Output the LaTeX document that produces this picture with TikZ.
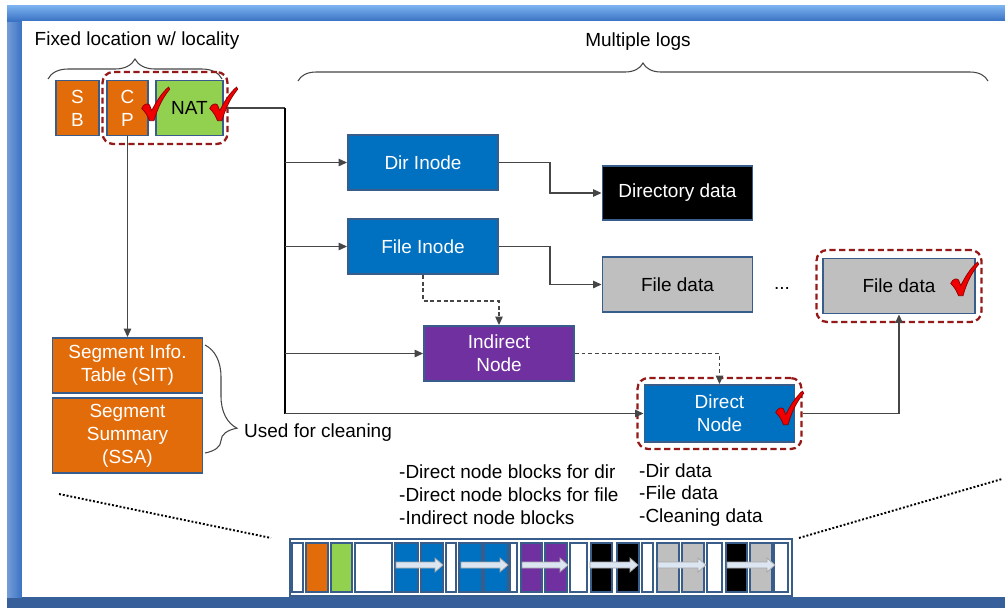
\documentclass[tikz,border=0pt]{standalone}
\usepackage{fontspec}
\setmainfont{Liberation Sans}
\usepackage{xcolor}
\usetikzlibrary{arrows.meta, positioning, fit, calc, decorations.pathreplacing}

\definecolor{frameblue}{RGB}{58,114,196}
\definecolor{framelight}{RGB}{125,180,240}
\definecolor{framedark}{RGB}{55,96,155}
\definecolor{bordblue}{RGB}{56,93,138}
\definecolor{orng}{RGB}{227,108,10}
\definecolor{grn}{RGB}{146,208,80}
\definecolor{blu}{RGB}{0,112,192}
\definecolor{purp}{RGB}{112,48,160}
\definecolor{gry}{RGB}{191,191,191}
\definecolor{rimred}{RGB}{150,25,25}
\definecolor{tickred}{RGB}{240,0,0}
\definecolor{tickdark}{RGB}{140,0,0}
\definecolor{linegray}{RGB}{70,70,70}
\definecolor{arrowfill}{RGB}{220,230,242}

\begin{document}
\begin{tikzpicture}[
    x=0.02cm, y=-0.02cm,
    every node/.style={font=\fontsize{10.8}{13}\selectfont},
    box/.style={rectangle, draw=bordblue, line width=1.1pt, minimum width=3cm, minimum height=1.1cm, inner sep=1pt, align=center},
    inode/.style={box, fill=blu, text=white},
    seg/.style={box, fill=orng, text=white},
    rim/.style={draw=rimred, line width=1.3pt, dash pattern=on 3.5pt off 2pt, rounded corners=6pt, inner xsep=0.1cm, inner ysep=0.14cm},
    conn/.style={draw=linegray, line width=0.7pt},
    arr/.style={conn, -{Triangle[length=1.7mm, width=1.5mm]}},
    fine dash/.style={dash pattern=on 2.2pt off 1.6pt},
    brc/.style={draw=linegray, line width=0.6pt, decorate, decoration={brace, amplitude=#1}},
    zoomline/.style={line width=1.1pt, dash pattern=on 1.1pt off 1.1pt},
    tick/.pic={
      \filldraw[fill=tickred, draw=tickdark, line width=0.4pt, scale=1.12]
        (-11,3) .. controls (-9,-1) and (-6,-2) .. (-4,0) -- (-2,5)
        .. controls (2,-3) and (7,-11) .. (13,-16) -- (14,-14)
        .. controls (8,-7) and (3,3) .. (0,14) -- (-4,14)
        .. controls (-6,9) and (-8,6) .. (-11,3) -- cycle;
    }
]
\useasboundingbox (0,0) rectangle (1005,610);

% frame
\fill[framedark] (7,5) rectangle (1010,608);
\shade[left color=frameblue!70!white, right color=frameblue] (7,5) rectangle (22,597);
\shade[top color=framelight, bottom color=frameblue] (7,5) rectangle (1010,21);
\fill[white] (22,21) rectangle (1010,597);

% labels on top
\node (fixlbl) at (137,41) {Fixed location w/ locality};
\node (loglbl) at (638,42) {Multiple logs};
\draw[brc=0.4cm] (48,79) -- (222,79);
\draw[brc=0.36cm] (298,81) -- (988,81);

% fixed area
\node[box, fill=orng, text=white, minimum width=0.86cm] (sb) at (77.5,108) {S\\B};
\node[box, fill=orng, text=white, minimum width=0.82cm] (cp) at (127.5,108) {C\\P};
\node[box, fill=grn, minimum width=1.34cm] (nat) at (189.5,108) {NAT};
\node[rim, inner xsep=0.07cm, inner ysep=0.15cm, fit=(cp)(nat)] (cprim) {};

% segment info
\node[seg, minimum height=1.1cm] (sit) at (127.5,365.5) {Segment Info.\\Table (SIT)};
\node[seg, minimum height=1.5cm] (ssa) at (127.5,435.5) {Segment\\Summary\\(SSA)};
\draw[brc=0.64cm, decoration={aspect=0.77}] (205,345) -- (205,453);
\node[anchor=west] (cleanlbl) at (238,433) {Used for cleaning};

% logs
\node[inode] (dir) at (423,162.5) {Dir Inode};
\node[inode] (fin) at (423,246.5) {File Inode};
\node[box, fill=purp, text=white] (ind) at (499,353.5) {Indirect\\Node};
\node[inode, minimum height=1.14cm] (dn) at (719.5,413.5) {Direct\\Node};
\node[box, fill=black, text=white, minimum height=1.08cm] (dird) at (677.5,193) {Directory data};
\node[box, fill=gry] (fd) at (677.5,284.5) {File data};
\node (dots) at (782,288) {...};
\node[box, fill=gry, minimum width=3.04cm] (fd2) at (899,286) {File data};
\node[rim, inner xsep=0.11cm, inner ysep=0.15cm, fit=(fd2)] (fdrim) {};
\node[rim, inner sep=0.12cm, fit=(dn)] (dnrim) {};

% connectors
\coordinate (tk) at (285,108);
\draw[conn] (nat.east) -- (tk);
\draw[line width=1.1pt] (tk) -- (tk |- dn.west);
\draw[arr] (tk |- dir.west) -- (dir.west);
\draw[arr] (tk |- fin.west) -- (fin.west);
\draw[arr] (tk |- ind.west) -- (ind.west);
\draw[arr] (tk |- dn.west) -- (dn.west);
\draw[arr] (dir.east) -- ++(51,0) |- (dird.west);
\draw[arr] (fin.east) -- ++(51,0) |- (fd.west);
\draw[arr, fine dash] (fin.south) -- ++(0,26) -| (ind.north);
\draw[arr, fine dash] (ind.east) -| (dn.north);
\draw[arr] (dnrim.east) -| (fd2.south);
\draw[arr] (cp.south) -- (sit.north);

% checks
\pic at (154,105) {tick};
\pic at (222,105) {tick};
\pic at (963,280) {tick};
\pic at (788,409) {tick};

% block lists
\node[anchor=west, align=left] (nodelist) at (393,495) {-Direct node blocks for dir\\-Direct node blocks for file\\-Indirect node blocks};
\node[anchor=west, align=left] (datalist) at (633,495) {-Dir data\\-File data\\-Cleaning data};

% log layout bar
\node[draw=bordblue, line width=1.2pt, fill=white, minimum width=10.04cm, minimum height=1.14cm] (bar) at (541,567.5) {};
\foreach \a/\b/\c in {292/303/white, 306/328/orng, 331/352/grn, 355/392/white,
    395/418/blu, 421/443/blu, 446/456/white, 459/482/blu, 484/508/blu, 510/517/white,
    521/542/purp, 545/567/purp, 570/587/white, 591/612/black, 617/639/black, 642/653/white,
    657/679/gry, 682/704/gry, 707/722/white, 726/747/black, 750/772/gry, 774/788/white}
  \filldraw[fill=\c, draw=bordblue, line width=0.8pt] (\a,543) rectangle (\b,592);
\foreach \a/\b in {396/443, 461/508, 522/568, 590/638, 658/706, 727/775}
  \filldraw[fill=arrowfill, draw=gray!70, line width=0.4pt]
    (\a,562) -- (\b-8,562) -- (\b-8,558) -- (\b,565) -- (\b-8,572) -- (\b-8,568) -- (\a,568) -- cycle;

\coordinate (zl) at (59,494);
\coordinate (zr) at (1002,479);
\draw[zoomline] (zl) -- ($(bar.north west)+(-18,0)$);
\draw[zoomline] ($(bar.north east)+(6,0)$) -- (zr);

\end{tikzpicture}
\end{document}
